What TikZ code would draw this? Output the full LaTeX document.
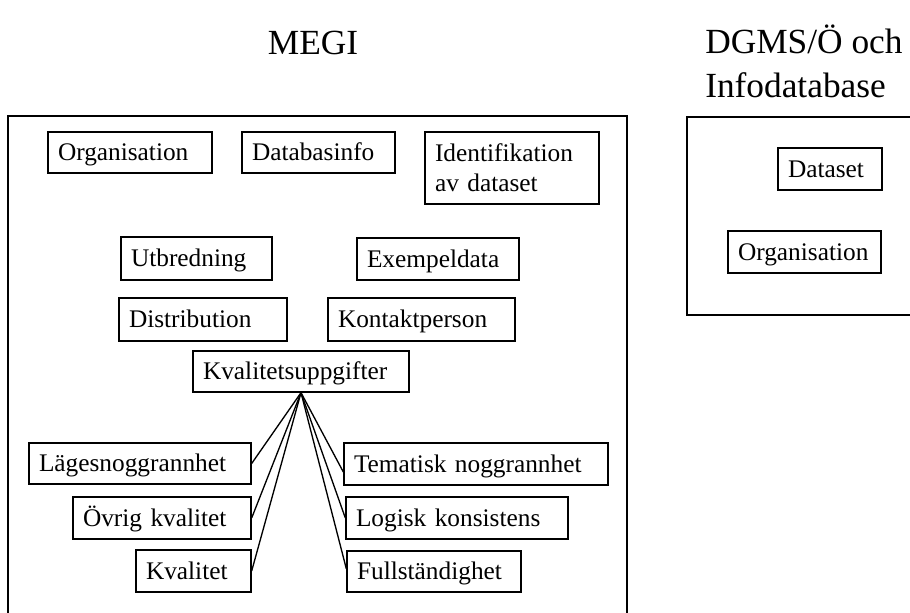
\documentclass[tikz,border=0pt]{standalone}
\usepackage{fontspec}
\setmainfont{Liberation Serif}
\newcommand{\boxstrut}{\rule[-4.4pt]{0pt}{21.4pt}}
\newcommand{\mkbox}[6]{%
  \pgfmathsetmacro{\mybw}{(#4-#2)*0.75-15}%
  \pgfmathsetmacro{\mybh}{(#5-#3)*0.75}%
  \node[bx, text width=\mybw pt, minimum height=\mybh pt] (#1) at ({(#2+#4)/2},{(#3+#5)/2}) {#6};}
\begin{document}
\begin{tikzpicture}[x=0.75pt,y=-0.75pt,
  bx/.style={draw, line width=1pt, inner xsep=7.5pt, inner ysep=0pt, align=left,
    font=\fontsize{19}{22}\selectfont, execute at begin node=\boxstrut},
  frame/.style={draw, line width=1.1pt},
  conn/.style={draw, line width=1pt},
  title/.style={font=\fontsize{26.5}{32}\selectfont, inner sep=0pt}]
\useasboundingbox (0,0) rectangle (910,613);
\clip (0,0) rectangle (910,613);
% titles
\node[title, anchor=base] (megi) at (313,55) {MEGI};
\node[title, anchor=base west] (dgmsa) at (705,54) {DGMS/Ö och};
\node[title, anchor=base west] (dgmsb) at (705,98) {Infodatabase};
% frames
\draw[frame] (8,116) rectangle (627,650);
\draw[frame] (687,117) rectangle (950,315);
% MEGI boxes
\mkbox{org}{48}{132}{212}{173}{Organisation}
\mkbox{dbi}{242}{132}{395}{173}{Databasinfo}
\mkbox{idf}{425}{132}{599}{204}{Identifikation\\av dataset\boxstrut}
\mkbox{utb}{121}{237}{272}{280}{Utbredning}
\mkbox{exd}{357}{238}{519}{280}{Exempeldata}
\mkbox{dis}{119}{298}{287}{341}{Distribution}
\mkbox{kon}{328}{298}{515}{341}{Kontaktperson}
\mkbox{kva}{193}{351}{409}{392}{Kvalitetsuppgifter}
\mkbox{lag}{29}{443}{251}{484}{Lägesnoggrannhet}
\mkbox{ovr}{73}{497}{251}{539}{Övrig kvalitet}
\mkbox{kvt}{136}{550}{251}{592}{Kvalitet}
\mkbox{tem}{344}{443}{608}{485}{Tematisk noggrannhet}
\mkbox{log}{346}{497}{568}{539}{Logisk konsistens}
\mkbox{ful}{347}{551}{521}{592}{Fullständighet}
% DGMS boxes
\mkbox{ds}{778}{148}{882}{190}{Dataset}
\mkbox{orgb}{728}{231}{881}{273}{Organisation}
% connectors
\draw[conn] (kva.south) -- (lag.east);
\draw[conn] (kva.south) -- (ovr.east);
\draw[conn] (kva.south) -- (kvt.east);
\draw[conn] (kva.south) -- ([yshift=-6pt]tem.west);
\draw[conn] (kva.south) -- (log.west);
\draw[conn] (kva.south) -- ([yshift=2pt]ful.west);
\end{tikzpicture}
\end{document}
